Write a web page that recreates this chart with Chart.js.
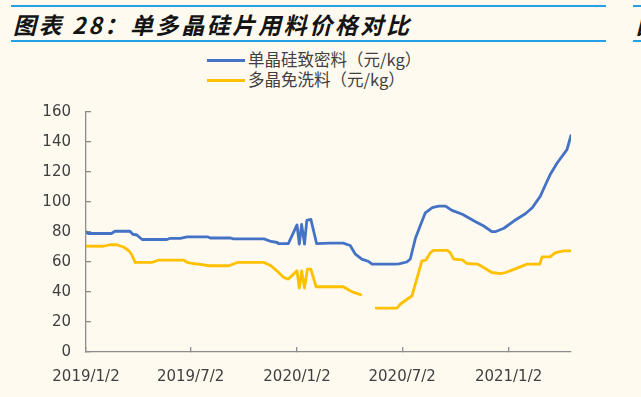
<!DOCTYPE html>
<html>
<head>
<meta charset="utf-8">
<script src="https://cdn.jsdelivr.net/npm/chart.js@4.4.1/dist/chart.umd.min.js"></script>
<style>
html, body { margin: 0; padding: 0; width: 641px; height: 397px; overflow: hidden; background: #fefaf0; }
#wrap { position: relative; width: 641px; height: 397px; }
.rule { position: absolute; height: 2px; background: #23a0e6; }
.title { position: absolute; top: 7px; white-space: nowrap; font: italic bold 23px "Noto Sans CJK SC"; letter-spacing: 2.6px; color: #141414; }
.legend { position: absolute; left: 207px; font: 16.5px "Noto Sans CJK SC"; color: #404040; line-height: 20px; white-space: nowrap; }
.legend i { display: inline-block; width: 38px; height: 3px; vertical-align: middle; margin-right: 3px; position: relative; top: -1px; }
canvas { position: absolute; left: 0; top: 0; }
</style>
</head>
<body>
<div id="wrap">
  <div class="rule" style="left:11px;width:595px;top:5px"></div>
  <div class="rule" style="left:11px;width:595px;top:40px"></div>
  <div class="rule" style="left:633px;width:20px;top:5px"></div>
  <div class="rule" style="left:633px;width:20px;top:40px"></div>
  <div class="title" style="left:13px">图表 28：单多晶硅片用料价格对比</div>
  <div class="title" style="left:636px">图表 29</div>
  <div id="legend"></div>
  <canvas id="chart" width="641" height="397"></canvas>
</div>
<script>
// days counted from 2019/1/2
const xTickDays = [0, 181, 365, 547, 731];
const xTickLabels = ['2019/1/2', '2019/7/2', '2020/1/2', '2020/7/2', '2021/1/2'];
const seriesNames = ['单晶硅致密料（元/kg）', '多晶免洗料（元/kg）'];
const seriesColors = ['#4472c4', '#ffc000'];

const monoDays = [0, 4, 44, 50, 76, 81, 88, 97, 140, 146, 163, 175, 210, 215, 250, 255, 308, 320, 331, 333, 350,
  365, 369, 373, 378, 382, 389, 399, 422, 445, 457, 466, 477, 489, 495, 535, 541, 555, 561, 570, 578, 587, 599,
  610, 622, 633, 651, 674, 688, 702, 708, 723, 740, 760, 772, 786, 795, 803, 815, 832, 835, 839];
const monoPrice = [80, 79, 79, 80.5, 80.5, 78.5, 78, 75, 75, 75.8, 75.8, 76.8, 76.8, 76, 76, 75.4, 75.4, 73.7, 73, 72.2, 72.2,
  84.7, 72, 85, 72, 87.8, 88.4, 72.2, 72.6, 72.6, 71, 65.2, 61.9, 60.3, 58.6, 58.6, 58.8, 60, 62, 76, 84, 92.8, 96.2,
  97.3, 97.3, 94.4, 91.8, 86.9, 84, 80.2, 80.2, 82.5, 87.3, 92.2, 96.2, 103.9, 111.7, 118.3, 126, 134.9, 139, 144.4];

const polyDays = [0, 30, 42, 53, 65, 74, 79, 85, 114, 126, 169, 175, 184, 198, 213, 247, 262, 308, 320, 330, 342, 350,
  365, 369, 373, 378, 383, 389, 398, 445, 457, 463, 475, 488, 502, 538, 544, 564, 573, 581, 588, 596, 601, 625,
  630, 636, 651, 659, 677, 688, 702, 717, 726, 737, 763, 785, 789, 803, 812, 827, 839];
const polyPrice = [70.6, 70.5, 71.5, 71.5, 70, 67.5, 65, 59.7, 59.7, 61.3, 61.3, 59.7, 59, 58.4, 57.5, 57.5, 59.7, 59.7, 57.5, 54.1, 49.7, 48.6,
  54.1, 42.6, 54, 42.6, 55.2, 55.2, 43.5, 43.5, 40.8, 39.7, 38.2, null, 29.3, 29.3, 32, 37.5, 49.7, 60.8, 61.3, 66.3, 67.8, 67.8,
  66.3, 61.9, 61.4, 59, 58.6, 56.3, 53, 52.3, 53, 54.6, 58.6, 58.6, 63.4, 63.4, 66.3, 67.4, 67.4];

// legend, two rows like the original
const legendBox = document.getElementById('legend');
seriesNames.forEach((name, i) => {
  const row = document.createElement('div');
  row.className = 'legend';
  row.style.top = (49 + i * 20) + 'px';
  row.innerHTML = '<i style="background:' + seriesColors[i] + '"></i>' + name;
  legendBox.appendChild(row);
});

const axisColor = '#8c8c8c';
const tickFont = { family: 'DejaVu Sans', size: 15 };

const ctx = document.getElementById('chart').getContext('2d');
new Chart(ctx, {
  type: 'line',
  data: {
    datasets: [{
      label: seriesNames[0],
      data: monoDays.map((d, i) => ({ x: d, y: monoPrice[i] })),
      borderColor: seriesColors[0],
      borderWidth: 2.8,
      pointRadius: 0,
      tension: 0,
      borderJoinStyle: 'round',
      borderCapStyle: 'round',
    }, {
      label: seriesNames[1],
      data: polyDays.map((d, i) => ({ x: d, y: polyPrice[i] })),
      borderColor: seriesColors[1],
      borderWidth: 2.8,
      pointRadius: 0,
      tension: 0,
      spanGaps: false,
      borderJoinStyle: 'round',
      borderCapStyle: 'round',
    }],
  },
  options: {
    responsive: false,
    animation: false,
    layout: { padding: { left: 0, right: 70, top: 112, bottom: 0 } },
    plugins: { legend: { display: false }, tooltip: { enabled: false } },
    scales: {
      x: {
        type: 'linear',
        min: 0,
        max: 839,
        afterBuildTicks: (s) => { s.ticks = xTickDays.map(v => ({ value: v })); },
        afterFit: (s) => { s.height = 45; },
        ticks: {
          autoSkip: false,
          maxRotation: 0,
          padding: 21,
          color: '#404040',
          font: tickFont,
          callback: (v, i) => xTickLabels[i],
        },
        grid: { drawOnChartArea: false, tickLength: -5, color: axisColor, lineWidth: 1.3 },
        border: { color: axisColor, width: 1.3 },
      },
      y: {
        min: 0,
        max: 160,
        afterFit: (s) => { s.width = 86; },
        ticks: { stepSize: 20, padding: 20, color: '#404040', font: tickFont },
        grid: { drawOnChartArea: false, tickLength: -5, color: axisColor, lineWidth: 1.3 },
        border: { color: axisColor, width: 1.3 },
      },
    },
  },
});
</script>
</body>
</html>
